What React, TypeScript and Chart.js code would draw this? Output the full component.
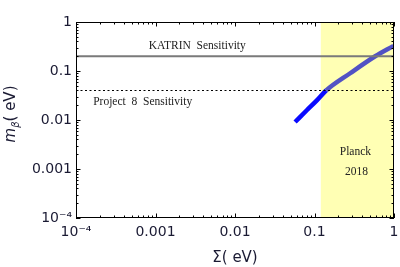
import React, { useEffect, useRef } from "react";
import { Chart, registerables } from "chart.js";

Chart.register(...registerables);

// ---- data ----
const sigma = [0.057, 0.08, 0.107, 0.14, 0.281, 0.58, 0.986];
const mBeta = [0.0091, 0.0158, 0.0252, 0.04, 0.09, 0.2, 0.325];
const katrinSens = 0.2;
const project8Sens = 0.04;
const planckLimit = 0.12;
const axisMin = 1e-4;
const axisMax = 1;
const decadeTicks = [1e-4, 1e-3, 1e-2, 1e-1, 1];
const tickLabels = ["10⁻⁴", "0.001", "0.01", "0.1", "1"];
const katrinLabel = "KATRIN  Sensitivity";
const project8Label = "Project  8  Sensitivity";
const planckLabel = ["Planck", "2018"];
const xTitle = "Σ( eV)";
const yTitleParts = ["m", "β", "( eV)"];

const TICK_FONT = "DejaVu Sans";
const NOTE_FONT = "Liberation Serif";

const framePlugin = {
  id: "framePlugin",
  beforeDatasetsDraw(chart: any) {
    const { ctx, chartArea } = chart;
    const xs = chart.scales.x;
    const x0 = xs.getPixelForValue(planckLimit);
    const x1 = xs.getPixelForValue(axisMax);
    ctx.save();
    ctx.fillStyle = "#ffffb4";
    ctx.fillRect(x0, chartArea.top, x1 - x0, chartArea.bottom - chartArea.top);
    ctx.restore();
  },
  afterDatasetsDraw(chart: any) {
    const { ctx, chartArea } = chart;
    const xs = chart.scales.x;
    const ys = chart.scales.y;
    const { left, right, top, bottom } = chartArea;
    ctx.save();
    // annotation texts
    ctx.fillStyle = "#222";
    ctx.font = `11.5px "${NOTE_FONT}"`;
    ctx.textAlign = "center";
    ctx.textBaseline = "middle";
    ctx.fillText(katrinLabel, xs.getPixelForValue(0.00335), ys.getPixelForValue(katrinSens) - 10);
    ctx.fillText(project8Label, xs.getPixelForValue(0.00069), ys.getPixelForValue(project8Sens) + 11);
    const px = (xs.getPixelForValue(planckLimit) + xs.getPixelForValue(axisMax)) / 2;
    ctx.fillText(planckLabel[0], px - 2, ys.getPixelForValue(0.00219));
    ctx.fillText(planckLabel[1], px - 1, ys.getPixelForValue(0.00087));

    // frame
    ctx.strokeStyle = "#000";
    ctx.lineWidth = 1;
    ctx.strokeRect(Math.round(left) + 0.5, Math.round(top) + 0.5, Math.round(right - left) - 1, Math.round(bottom - top) - 1);

    // inward ticks
    ctx.beginPath();
    for (let e = -4; e <= 0; e++) {
      for (let k = 1; k <= 9; k++) {
        const v = Math.pow(10, e) * k;
        if (v > axisMax * 1.0001) break;
        const len = k === 1 ? 4.5 : 2.5;
        const X = Math.round(xs.getPixelForValue(v)) + 0.5;
        ctx.moveTo(X, bottom);
        ctx.lineTo(X, bottom - len);
        ctx.moveTo(X, top);
        ctx.lineTo(X, top + len);
        const Y = Math.round(ys.getPixelForValue(v)) + 0.5;
        ctx.moveTo(left, Y);
        ctx.lineTo(left + len, Y);
        ctx.moveTo(right, Y);
        ctx.lineTo(right - len, Y);
      }
    }
    ctx.stroke();

    // y title: italic m, subscript beta, ( eV)
    ctx.translate(15, 114);
    ctx.rotate(-Math.PI / 2);
    ctx.fillStyle = "#1a1a33";
    ctx.textAlign = "left";
    ctx.textBaseline = "alphabetic";
    const f1 = `italic 15px "${TICK_FONT}"`;
    const f2 = `italic 10px "${TICK_FONT}"`;
    const f3 = `15px "${TICK_FONT}"`;
    ctx.font = f1;
    const w1 = ctx.measureText(yTitleParts[0]).width;
    ctx.font = f2;
    const w2 = ctx.measureText(yTitleParts[1]).width;
    ctx.font = f3;
    const w3 = ctx.measureText(yTitleParts[2]).width;
    let u = -(w1 + w2 + w3) / 2;
    ctx.font = f1;
    ctx.fillText(yTitleParts[0], u, 0);
    u += w1;
    ctx.font = f2;
    ctx.fillText(yTitleParts[1], u, 4);
    u += w2;
    ctx.font = f3;
    ctx.fillText(yTitleParts[2], u, 0);
    ctx.restore();
  },
};

export default function App() {
  const ref = useRef<HTMLCanvasElement | null>(null);
  useEffect(() => {
    document.body.style.margin = "0";
    const canvas = ref.current;
    if (!canvas) return;
    const curve = sigma.map((s, i) => ({ x: s, y: mBeta[i] }));
    const chart = new Chart(canvas, {
      type: "line",
      data: {
        datasets: [
          {
            label: "KATRIN",
            data: [
              { x: axisMin, y: katrinSens },
              { x: axisMax, y: katrinSens },
            ],
            borderColor: "#7a7a7a",
            borderWidth: 2,
            pointRadius: 0,
          },
          {
            label: "Project 8",
            data: [
              { x: axisMin, y: project8Sens },
              { x: axisMax, y: project8Sens },
            ],
            borderColor: "#000",
            borderWidth: 1.2,
            borderDash: [2, 2.5],
            pointRadius: 0,
          },
          {
            label: "m_beta",
            data: curve,
            borderColor: "#0000ff",
            borderWidth: 4.5,
            pointRadius: 0,
            cubicInterpolationMode: "monotone",
            borderCapStyle: "butt",
            segment: {
              borderColor: (c: any) => (c.p0.parsed.x >= planckLimit * 0.98 ? "#5252c4" : "#0a0aff"),
            },
          } as any,
        ],
      },
      options: {
        responsive: false,
        animation: false,
        layout: { padding: { top: 22, right: 6, left: 0, bottom: 0 } },
        plugins: { legend: { display: false }, tooltip: { enabled: false } },
        scales: {
          x: {
            type: "logarithmic",
            min: axisMin,
            max: axisMax,
            grid: { display: false, drawTicks: false },
            border: { display: false },
            afterBuildTicks: (s: any) => {
              s.ticks = decadeTicks.map((v) => ({ value: v }));
            },
            afterFit: (s: any) => {
              s.height = 49;
              s.paddingLeft = 0;
              s.paddingRight = 0;
            },
            ticks: {
              autoSkip: false,
              maxRotation: 0,
              padding: 6,
              color: "#1a1a33",
              font: { family: TICK_FONT, size: 14 },
              callback: (_v: any, i: number) => tickLabels[i],
            },
            title: {
              display: true,
              text: xTitle,
              color: "#1a1a33",
              font: { family: TICK_FONT, size: 15 },
              padding: { top: 0, bottom: 0 },
            },
          },
          y: {
            type: "logarithmic",
            min: axisMin,
            max: axisMax,
            grid: { display: false, drawTicks: false },
            border: { display: false },
            afterBuildTicks: (s: any) => {
              s.ticks = decadeTicks.map((v) => ({ value: v }));
            },
            afterFit: (s: any) => {
              s.width = 76;
              s.paddingTop = 0;
              s.paddingBottom = 0;
            },
            ticks: {
              autoSkip: false,
              padding: 4,
              color: "#1a1a33",
              font: { family: TICK_FONT, size: 14 },
              callback: (_v: any, i: number) => tickLabels[i],
            },
          },
        },
      },
      plugins: [framePlugin],
    } as any);
    return () => chart.destroy();
  }, []);
  return (
    <div style={{ position: "fixed", left: 0, top: 0, width: 400, height: 267, background: "#fff" }}>
      <canvas ref={ref} width={400} height={267} />
    </div>
  );
}
